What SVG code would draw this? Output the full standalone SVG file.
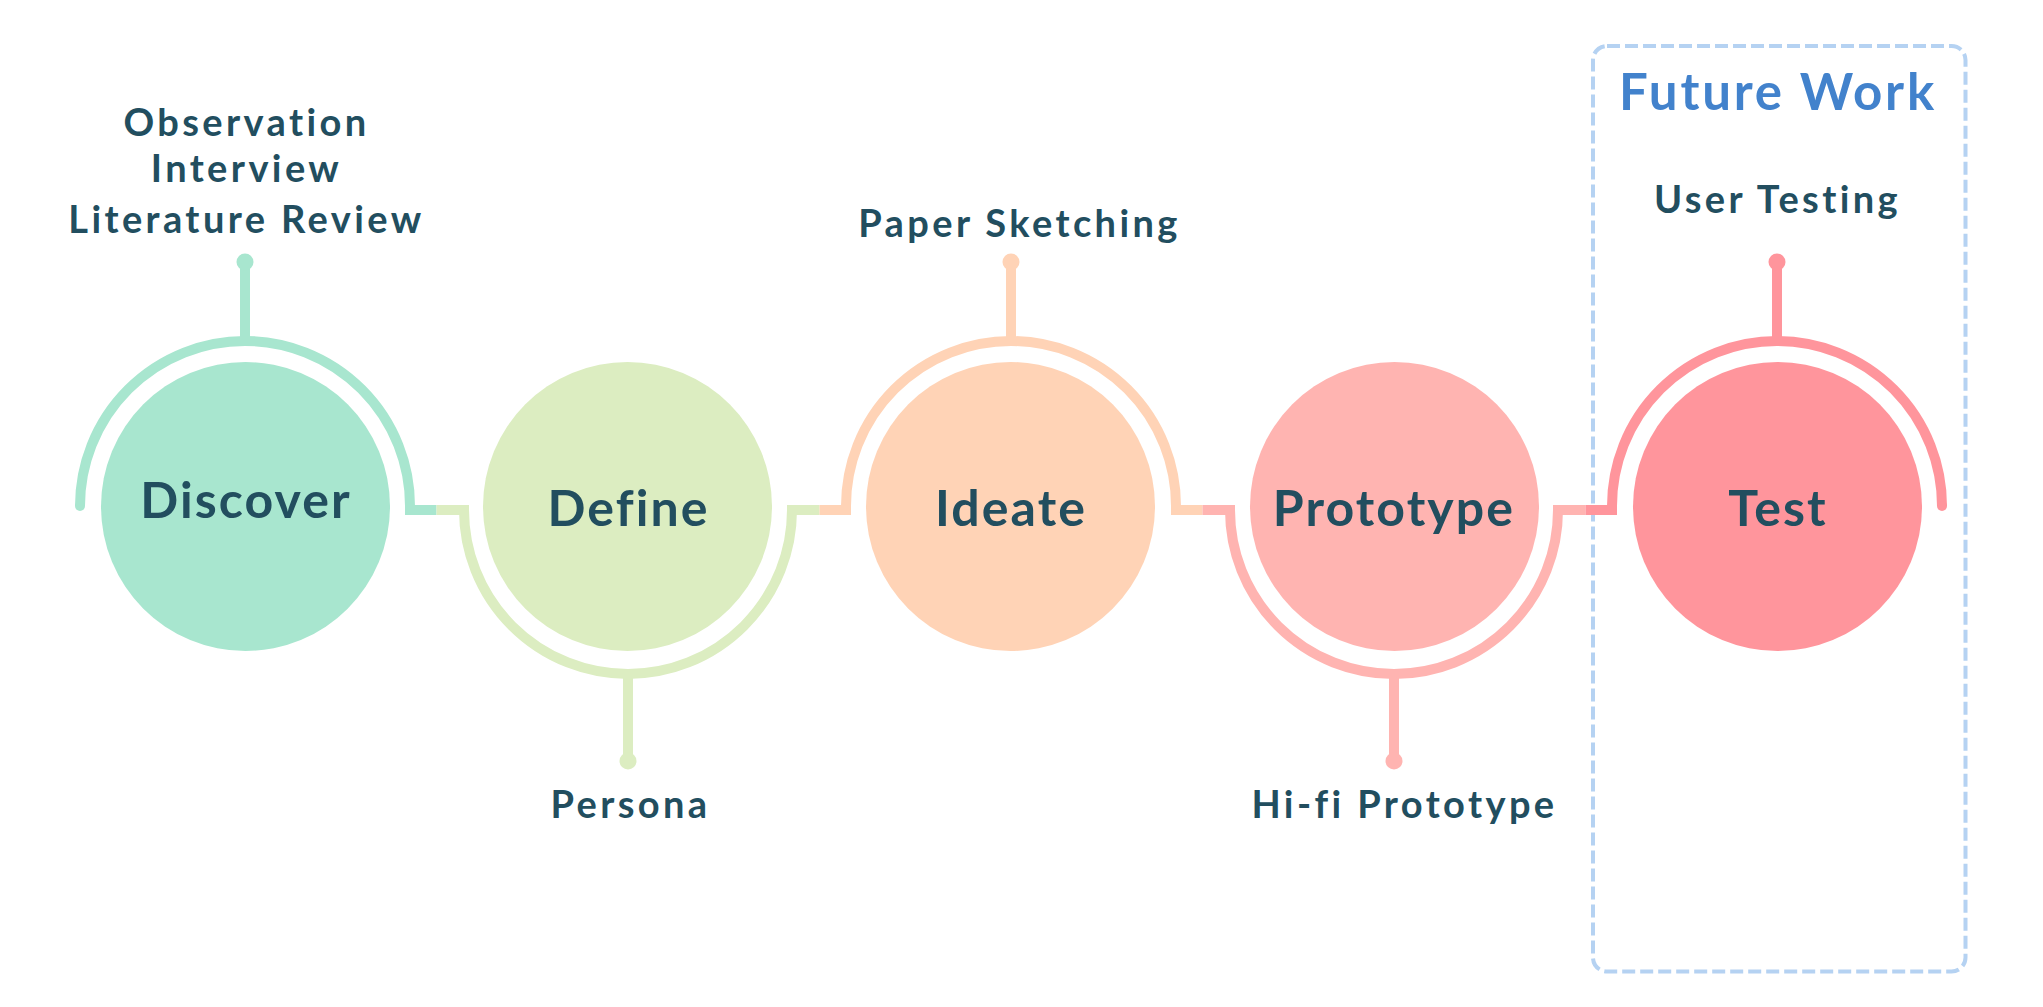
<svg xmlns="http://www.w3.org/2000/svg" width="2043" height="1007" viewBox="0 0 2043 1007">
  <style>
    .title { font-family: Lato, "Open Sans", sans-serif; font-weight: 700; font-size: 50px; letter-spacing: 2.1px; fill: #224E5F; text-anchor: middle; }
    .label { font-family: Lato, "Open Sans", sans-serif; font-weight: 700; font-size: 38px; letter-spacing: 3.4px; fill: #224E5F; text-anchor: middle; }
    .future { font-family: Lato, "Open Sans", sans-serif; font-weight: 700; font-size: 51px; letter-spacing: 2.8px; fill: #4282CC; text-anchor: middle; }
    .track { fill: none; stroke-width: 10; stroke-linecap: butt; stroke-linejoin: miter; }
    .c1 { fill: #A8E6CF; } .s1 { stroke: #A8E6CF; }
    .c2 { fill: #DCEDC1; } .s2 { stroke: #DCEDC1; }
    .c3 { fill: #FFD3B6; } .s3 { stroke: #FFD3B6; }
    .c4 { fill: #FFB4B1; } .s4 { stroke: #FFB4B1; }
    .c5 { fill: #FF959C; } .s5 { stroke: #FF959C; }
  </style>

  <!-- Future work frame -->
  <rect x="1593" y="46" width="372.5" height="925.5" rx="14" ry="14" fill="none" stroke="#B5D2F2" stroke-width="4" stroke-dasharray="13 5"/>
  <text class="future" x="1778" y="110">Future Work</text>

  <!-- Track segments: arcs around each stage, joined by short horizontal links -->
  <g id="connectors">
    <path class="track s1" d="M 80 506 A 165 165 0 0 1 410 506 L 410 510 L 436.5 510"/>
    <circle class="c1" cx="80" cy="506" r="5"/>
    <path class="track s2" d="M 436.5 510 L 464 510 A 164 164 0 0 0 792 510 L 819.5 510"/>
    <path class="track s3" d="M 819.5 510 L 846 510 L 846 506 A 165 165 0 0 1 1176 506 L 1176 510 L 1202.5 510"/>
    <path class="track s4" d="M 1202.5 510 L 1230 510 A 164 164 0 0 0 1558 510 L 1585.5 510"/>
    <path class="track s5" d="M 1585.5 510 L 1612 510 L 1612 506 A 165 165 0 0 1 1942 506"/>
    <circle class="c5" cx="1942" cy="506" r="5"/>

    <!-- Pins -->
    <line class="track s1" x1="245" y1="262" x2="245" y2="342"/>
    <circle class="c1" cx="245" cy="262" r="8.5"/>
    <line class="track s2" x1="628" y1="673" x2="628" y2="761"/>
    <circle class="c2" cx="628" cy="761" r="8.5"/>
    <line class="track s3" x1="1011" y1="262" x2="1011" y2="342"/>
    <circle class="c3" cx="1011" cy="262" r="8.5"/>
    <line class="track s4" x1="1394" y1="673" x2="1394" y2="761"/>
    <circle class="c4" cx="1394" cy="761" r="8.5"/>
    <line class="track s5" x1="1777" y1="262" x2="1777" y2="342"/>
    <circle class="c5" cx="1777" cy="262" r="8.5"/>
  </g>

  <g id="discover">
    <circle class="c1" cx="245.5" cy="506.5" r="144.5"/>
    <text class="title" x="246" y="518">Discover</text>
    <text class="label" x="246.5" y="136">Observation</text>
    <text class="label" x="246.5" y="182">Interview</text>
    <text class="label" x="246.5" y="233">Literature Review</text>
  </g>

  <g id="define">
    <circle class="c2" cx="627.5" cy="506.5" r="144.5"/>
    <text class="title" x="628.5" y="526">Define</text>
    <text class="label" x="630.5" y="818">Persona</text>
  </g>

  <g id="ideate">
    <circle class="c3" cx="1010.5" cy="506.5" r="144.5"/>
    <text class="title" x="1011" y="526">Ideate</text>
    <text class="label" x="1019.5" y="237">Paper Sketching</text>
  </g>

  <g id="prototype">
    <circle class="c4" cx="1394.5" cy="506.5" r="144.5"/>
    <text class="title" x="1394" y="526">Prototype</text>
    <text class="label" x="1404.5" y="818">Hi-fi Prototype</text>
  </g>

  <g id="test">
    <circle class="c5" cx="1777.5" cy="506.5" r="144.5"/>
    <text class="title" x="1778" y="526">Test</text>
    <text class="label" x="1777.5" y="213">User Testing</text>
  </g>
</svg>
